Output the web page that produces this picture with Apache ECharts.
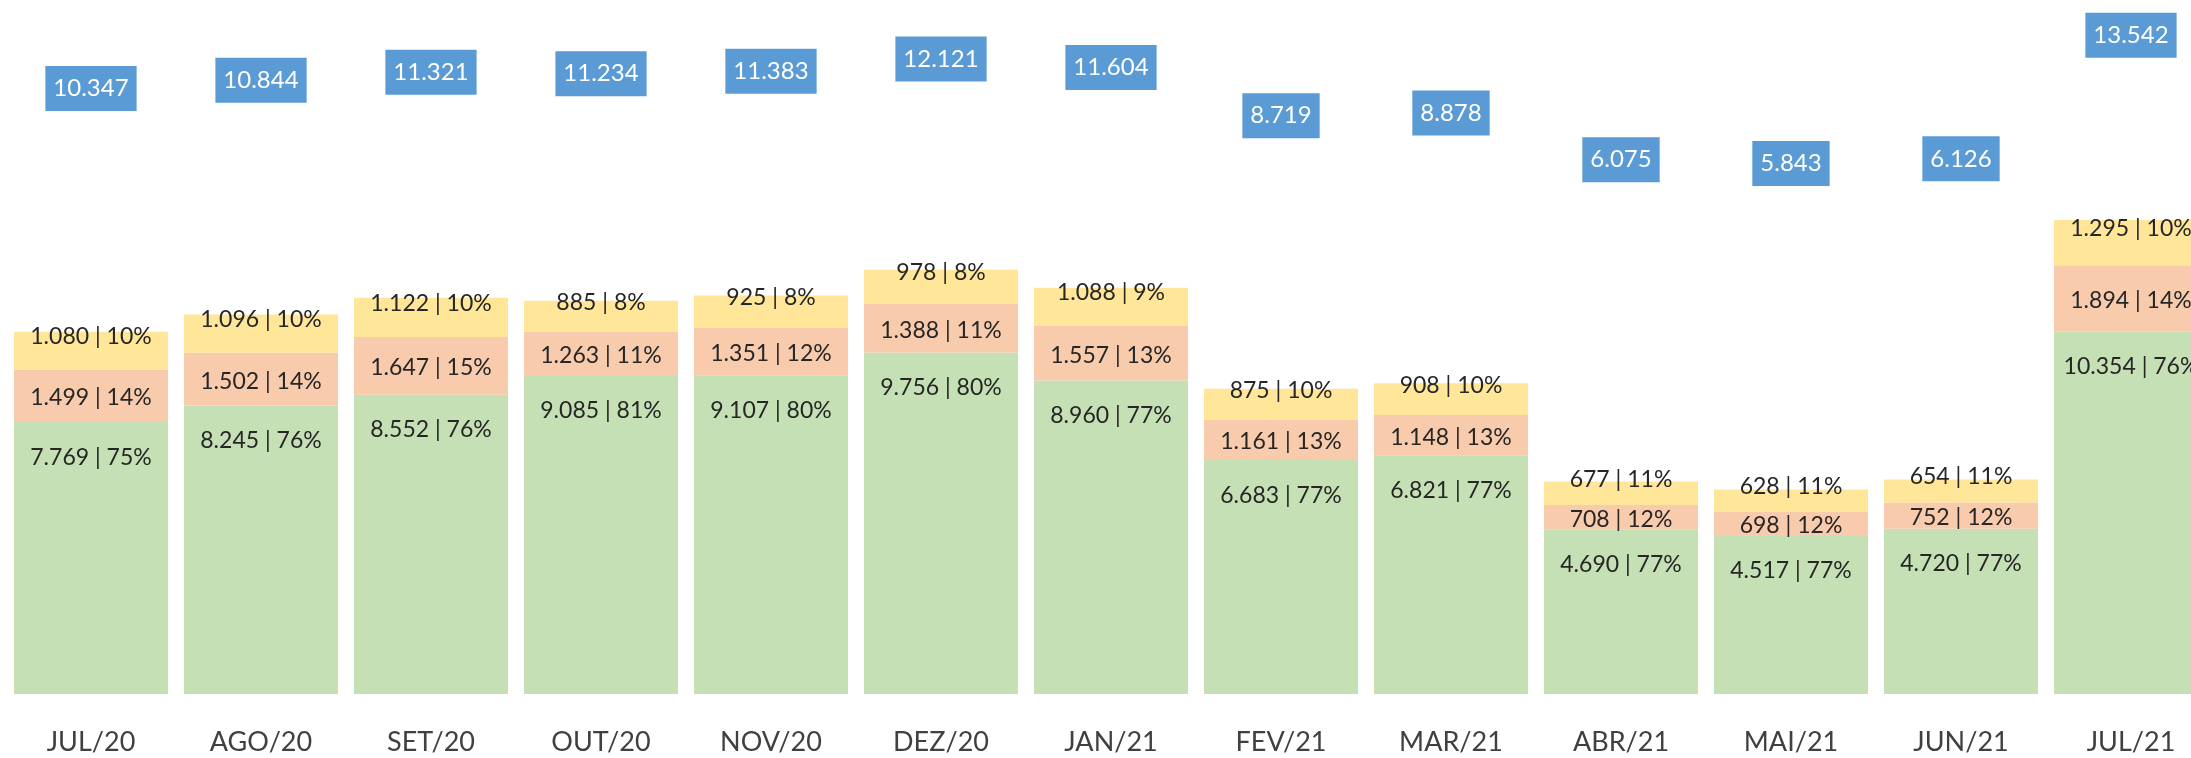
<!DOCTYPE html>
<html>
<head>
<meta charset="utf-8">
<title>Volume mensal</title>
<script src="https://cdn.jsdelivr.net/npm/echarts@6/dist/echarts.min.js"></script>
<style>
  html, body { margin: 0; padding: 0; background: #fff; }
  #chart { width: 2191px; height: 758px; }
</style>
</head>
<body>
<div id="chart"></div>
<script>
// dados
var meses = ['JUL/20','AGO/20','SET/20','OUT/20','NOV/20','DEZ/20','JAN/21','FEV/21','MAR/21','ABR/21','MAI/21','JUN/21','JUL/21'];
var verde   = [7769, 8245, 8552, 9085, 9107, 9756, 8960, 6683, 6821, 4690, 4517, 4720, 10354];
var laranja = [1499, 1502, 1647, 1263, 1351, 1388, 1557, 1161, 1148, 708, 698, 752, 1894];
var amarelo = [1080, 1096, 1122, 885, 925, 978, 1088, 875, 908, 677, 628, 654, 1295];
var totais  = [10347, 10844, 11321, 11234, 11383, 12121, 11604, 8719, 8878, 6075, 5843, 6126, 13542];

var fonte = 'Lato';
var corTexto = '#262626';

function milhar(v) {
    return String(v).replace(/\B(?=(\d{3})+(?!\d))/g, '.');
}
function rotulo(p) {
    var pct = Math.round(p.value / totais[p.dataIndex] * 100);
    return milhar(p.value) + ' | ' + pct + '%';
}

var chart = echarts.init(document.getElementById('chart'));
var opt = {
    animation: false,
    grid: {
        left: 6,
        width: 2210,
        top: 1,
        bottom: 64,
        outerBoundsMode: 'none'
    },
    xAxis: [
        {
            type: 'category',
            data: meses,
            axisLine: { show: false },
            axisTick: { show: false },
            axisLabel: {
                margin: 35,
                fontSize: 27,
                fontFamily: fonte,
                color: '#404040'
            }
        }
    ],
    yAxis: [
        { type: 'value', min: 0, max: 19800, show: false, splitLine: { show: false } },
        { type: 'value', min: -26000, max: 15600, show: false, splitLine: { show: false } }
    ],
    series: [
        {
            name: 'verde',
            type: 'bar',
            stack: 'total',
            barCategoryGap: '9.4%',
            itemStyle: { color: '#C5E0B4' },
            label: {
                show: true,
                position: ['50%', 35],
                align: 'center',
                verticalAlign: 'middle',
                fontSize: 23,
                fontFamily: fonte,
                color: corTexto,
                formatter: rotulo
            },
            data: verde
        },
        {
            name: 'laranja',
            type: 'bar',
            stack: 'total',
            itemStyle: { color: '#F8CBAD' },
            label: {
                show: true,
                position: 'inside',
                offset: [0, 2],
                fontSize: 23,
                fontFamily: fonte,
                color: corTexto,
                formatter: rotulo
            },
            data: laranja
        },
        {
            name: 'amarelo',
            type: 'bar',
            stack: 'total',
            itemStyle: { color: '#FFE699' },
            label: {
                show: true,
                position: 'inside',
                offset: [0, -14],
                fontSize: 23,
                fontFamily: fonte,
                color: corTexto,
                formatter: rotulo
            },
            data: amarelo
        },
        {
            name: 'total',
            type: 'line',
            yAxisIndex: 1,
            clip: false,
            symbol: 'circle',
            symbolSize: 2,
            itemStyle: { color: 'rgba(0,0,0,0)' },
            lineStyle: { opacity: 0 },
            label: {
                show: true,
                position: 'inside',
                fontSize: 24,
                fontFamily: fonte,
                color: '#fff',
                backgroundColor: '#5B9BD5',
                padding: [11, 8, 10, 8],
                formatter: function (p) { return milhar(p.value); }
            },
            data: totais
        }
    ]
};
chart.setOption(opt);
</script>
</body>
</html>
